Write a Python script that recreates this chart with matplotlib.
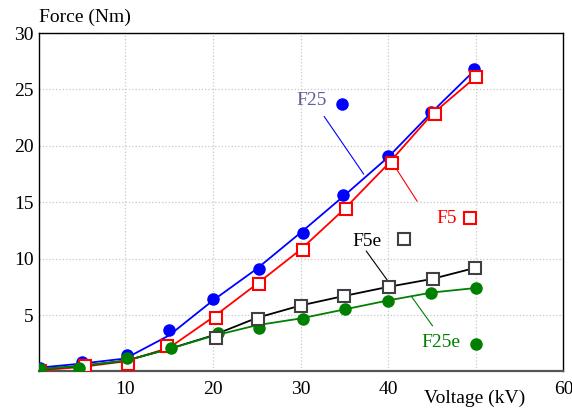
import matplotlib
matplotlib.use("Agg")
import matplotlib.pyplot as plt

plt.rcParams['font.family'] = ['Liberation Serif', 'DejaVu Serif']

# measured points (markers)
volt_f25 = [0.3, 5.1, 10.2, 15.0, 20.0, 25.2, 30.3, 34.8, 40.0, 44.9, 49.8]
f25 = [0.35, 0.8, 1.5, 3.65, 6.45, 9.1, 12.3, 15.6, 19.1, 23.0, 26.8]
volt_f5 = [0.3, 5.4, 10.3, 14.8, 20.35, 25.2, 30.3, 35.2, 40.4, 45.3, 50.0]
f5 = [0.05, 0.5, 0.7, 2.25, 4.75, 7.75, 10.8, 14.4, 18.5, 22.8, 26.1]
volt_f25e = [0.3, 4.75, 10.2, 15.2, 20.6, 25.2, 30.25, 35.1, 40.0, 44.9, 50.0]
f25e = [0.2, 0.35, 1.2, 2.06, 3.45, 3.83, 4.68, 5.53, 6.26, 7.0, 7.4]
volt_f5e = [20.35, 25.1, 30.1, 35.0, 40.1, 45.1, 49.9]
f5e = [3.0, 4.63, 5.82, 6.7, 7.47, 8.17, 9.2]

# curves (lines)
volt_line = [0.3, 5, 10, 15, 20, 25, 30, 35, 40, 45, 50]
f25_line = [0.35, 0.7, 1.15, 3.2, 6.3, 9.1, 12.3, 15.6, 19.0, 23.0, 26.8]
f5_line = [0.1, 0.4, 0.9, 2.1, 4.8, 7.75, 10.8, 14.4, 18.4, 22.8, 26.1]
f25e_line = [0.2, 0.5, 0.95, 2.0, 3.15, 4.1, 4.7, 5.5, 6.3, 7.0, 7.4]
f5e_line = [0.2, 0.5, 0.95, 2.0, 3.2, 4.75, 5.85, 6.7, 7.5, 8.2, 9.2]

xticks = [10, 20, 30, 40, 50, 60]
xtick_labels = ['10', '20', '30', '40', '', '60']  # 50 sits under the axis label
yticks = [5, 10, 15, 20, 25, 30]

BLUE = '#0000ff'
RED = '#ff0000'
GREEN = '#008000'

fig = plt.figure(figsize=(5.72, 4.08), dpi=100)
ax = fig.add_axes([0.069, 0.0895, 0.916, 0.8295])

circ = dict(marker='o', markersize=8, linestyle='none')
sq = dict(marker='s', markersize=8, linestyle='none', markerfacecolor='white',
          markeredgewidth=1.5)

ax.plot(volt_line, f25_line, color=BLUE, lw=1.3, zorder=3)
ax.plot(volt_line, f5_line, color=RED, lw=1.3, zorder=3)
ax.plot(volt_line, f5e_line, color='black', lw=1.3, zorder=3)
ax.plot(volt_line, f25e_line, color=GREEN, lw=1.3, zorder=3)

ax.plot(volt_f25, f25, color=BLUE, **circ, zorder=4)
ax.plot(volt_f5, f5, color=RED, markeredgecolor=RED, **sq, zorder=4)
ax.plot(volt_f25e, f25e, color=GREEN, **circ, zorder=4)
ax.plot(volt_f5e, f5e, color='#404040', markeredgecolor='#404040', **sq, zorder=5)

# callouts
ax.text(31.3, 24.0, 'F25', color='#5f5f99', fontsize=14, ha='center', va='center')
ax.plot([34.7], [23.75], color=BLUE, **circ)
ax.plot([32.7, 37.2], [22.6, 17.5], color=BLUE, lw=0.8)

ax.text(46.7, 13.6, 'F5', color=RED, fontsize=14, ha='center', va='center')
ax.plot([49.3], [13.6], color=RED, markeredgecolor=RED, **sq)
ax.plot([40.9, 43.3], [18.0, 15.1], color=RED, lw=0.8)

ax.text(37.6, 11.55, 'F5e', color='black', fontsize=14, ha='center', va='center')
ax.plot([41.85], [11.7], color='#404040', markeredgecolor='#404040', **sq)
ax.plot([37.5, 39.9], [10.67, 8.09], color='black', lw=0.8)

ax.text(46.0, 2.56, 'F25e', color=GREEN, fontsize=14, ha='center', va='center')
ax.plot([50.0], [2.44], color=GREEN, **circ)
ax.plot([42.7, 45.05], [6.6, 4.06], color=GREEN, lw=0.8)

ax.set_xlim(0.2, 60)
ax.set_ylim(0, 30)
ax.set_xticks(xticks)
ax.set_xticklabels(xtick_labels)
ax.set_yticks(yticks)
ax.tick_params(length=0, labelsize=14)
ax.tick_params(axis='x', pad=7)
ax.tick_params(axis='y', pad=4)
ax.grid(True, color='#c8c8c8', linestyle=':', linewidth=0.9)
ax.set_axisbelow(True)

for s in ['top', 'right', 'left']:
    ax.spines[s].set_color('black')
    ax.spines[s].set_linewidth(1.0)
ax.spines['bottom'].set_color('#555555')
ax.spines['bottom'].set_linewidth(1.6)

fig.text(0.069, 0.958, 'Force (Nm)', fontsize=14, ha='left', va='center')
fig.text(0.829, 0.0245, 'Voltage (kV)', fontsize=14, ha='center', va='center')

fig.savefig('out.png', dpi=100)
